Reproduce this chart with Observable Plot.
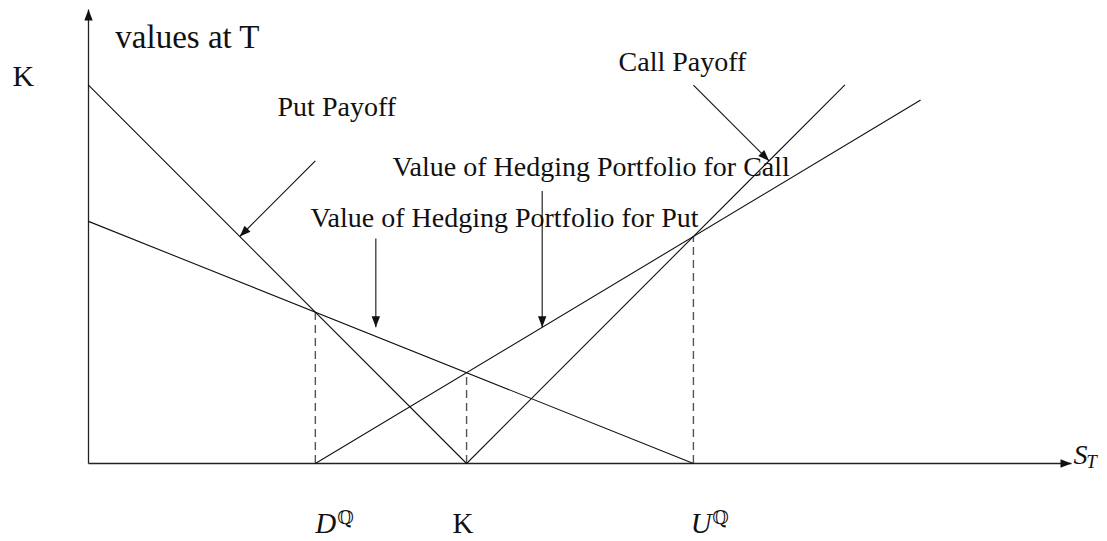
<!DOCTYPE html>
<html><head><meta charset="utf-8">
<script src="https://cdn.jsdelivr.net/npm/d3@7"></script>
<script src="https://cdn.jsdelivr.net/npm/@observablehq/plot@0.6"></script>
<style>body{margin:0;background:#fff}</style>
</head><body><div id="chart"></div>
<script>
// ---- data (abstract units: strike K = 100) ----
const putPayoffX = [0, 100], putPayoffY = [100, 0];
const callPayoffX = [100, 200], callPayoffY = [0, 100];
const hedgePutX = [0, 160], hedgePutY = [64, 0];
const hedgeCallX = [60, 220], hedgeCallY = [0, 96];
const guideX = [60, 100, 160], guideTop = [40, 24, 60];
const axisX1 = [0, 0], axisY1 = [0, 0], axisX2 = [260, 0], axisY2 = [0, 120];
const noteText = ["Put Payoff", "Call Payoff", "Value of Hedging Portfolio for Call", "Value of Hedging Portfolio for Put"];
const noteX = [50, 140.2, 80.4, 58.7];
const noteY = [91.8, 103.7, 75.9, 62.4];
const pointerX1 = [60, 160, 120, 76];
const pointerY1 = [80, 100, 72, 59.5];
const pointerX2 = [40, 180, 120, 76];
const pointerY2 = [60, 80, 36, 36];
const axisTitleText = ["values at T", "K"];
const axisTitleX = [7.1, -20.1];
const axisTitleY = [109.8, 99.7];
const axisTitleSize = [33, 30];
const tickBase = ["D", "K", "U"];
const tickBaseItalic = [true, false, true];
const tickBaseX = [60, 96.3, 159.3];
const tickSup = ["ℚ", "ℚ"];
const tickSupX = [65.8, 165];
const xTitle = "S", xTitleSub = "T";

// ---- layout ----
const W = 1107, H = 541, mL = 88, mR = 36, mT = 9, mB = 78;
const xDom = [0, 260], yDom = [0, 120];
const kx = (W - mL - mR) / (xDom[1] - xDom[0]);
const ky = (H - mT - mB) / (yDom[1] - yDom[0]);
const font = "'Liberation Serif', 'DejaVu Serif', serif";
const fs = 28;

const seg = (xs, ys, name) => xs.map((x, i) => ({x, y: ys[i], name}));
const payoffLines = [
  ...seg(putPayoffX, putPayoffY, "put"),
  ...seg(callPayoffX, callPayoffY, "call"),
  ...seg(hedgePutX, hedgePutY, "hput"),
  ...seg(hedgeCallX, hedgeCallY, "hcall")
];
const guides = guideX.map((x, i) => ({x, y1: 0, y2: guideTop[i]}));
const axes = axisX1.map((x, i) => ({x1: x, y1: axisY1[i], x2: axisX2[i], y2: axisY2[i]}));
const pointers = pointerX1.map((x, i) => ({x1: x, y1: pointerY1[i], x2: pointerX2[i], y2: pointerY2[i]}));
const heads = [...axes, ...pointers].map(d => ({
  x: d.x2, y: d.y2,
  angle: Math.atan2((d.x2 - d.x1) * kx, (d.y2 - d.y1) * ky) * 180 / Math.PI
}));
const notes = noteText.map((t, i) => ({t, x: noteX[i], y: noteY[i]}));
const titles = axisTitleText.map((t, i) => ({t, x: axisTitleX[i], y: axisTitleY[i], s: axisTitleSize[i]}));
const ticksB = tickBase.map((t, i) => ({t, x: tickBaseX[i], it: tickBaseItalic[i]}));
const ticksS = tickSup.map((t, i) => ({t, x: tickSupX[i]}));

// filled arrowhead with its tip at the origin, pointing up
const arrowHead = {draw(ctx) { ctx.moveTo(0, 0); ctx.lineTo(4.2, 11); ctx.lineTo(-4.2, 11); ctx.closePath(); }};

const tickY = -18.5, supY = -16.1;

const chart = Plot.plot({
  width: W, height: H,
  marginLeft: mL, marginRight: mR, marginTop: mT, marginBottom: mB,
  x: {domain: xDom, axis: null},
  y: {domain: yDom, axis: null},
  style: {background: "#fff", overflow: "visible", fontFamily: font},
  marks: [
    Plot.link(axes, {x1: "x1", y1: "y1", x2: "x2", y2: "y2", stroke: "#222", strokeWidth: 1.3}),
    Plot.ruleX(guides, {x: "x", y1: "y1", y2: "y2", stroke: "#555", strokeWidth: 1.4, strokeDasharray: "8,5"}),
    Plot.line(payoffLines, {x: "x", y: "y", z: "name", stroke: "#111", strokeWidth: 1.1}),
    Plot.link(pointers, {x1: "x1", y1: "y1", x2: "x2", y2: "y2", stroke: "#111", strokeWidth: 1.1}),
    Plot.dot(heads, {x: "x", y: "y", rotate: "angle", symbol: arrowHead, r: 5, fill: "#111", stroke: "none"}),
    Plot.text(notes, {x: "x", y: "y", text: "t", textAnchor: "start", lineAnchor: "bottom", fontSize: fs, fill: "#111"}),
    ...titles.map(d => Plot.text([d], {x: "x", y: "y", text: "t", textAnchor: "start", lineAnchor: "bottom", fontSize: d.s, fill: "#111"})),
    Plot.text(ticksB.filter(d => d.it), {x: "x", y: () => tickY, text: "t", textAnchor: "start", lineAnchor: "bottom", fontSize: 29, fontStyle: "italic", fill: "#111"}),
    Plot.text(ticksB.filter(d => !d.it), {x: "x", y: () => tickY, text: "t", textAnchor: "start", lineAnchor: "bottom", fontSize: 29, fill: "#111"}),
    Plot.text(ticksS, {x: "x", y: () => supY, text: "t", textAnchor: "start", lineAnchor: "bottom", fontSize: 19, fill: "#111", fontFamily: "'DejaVu Serif', serif"}),
    Plot.text([xTitle], {x: () => 260.5, y: () => 0, text: d => d, textAnchor: "start", lineAnchor: "bottom", fontSize: fs, fontStyle: "italic", fill: "#111"}),
    Plot.text([xTitleSub], {x: () => 263.9, y: () => -1.3, text: d => d, textAnchor: "start", lineAnchor: "bottom", fontSize: 19, fontStyle: "italic", fill: "#111"})
  ]
});
document.getElementById("chart").append(chart);
</script>
</body></html>
